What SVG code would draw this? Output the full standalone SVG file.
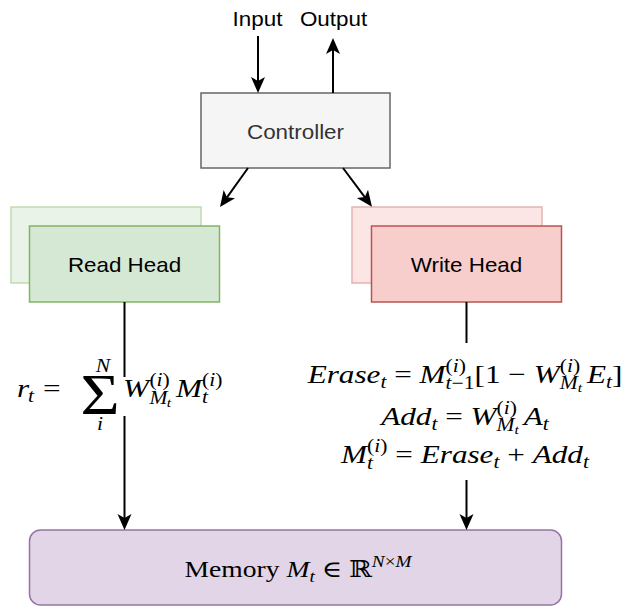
<svg xmlns="http://www.w3.org/2000/svg" width="627" height="606" viewBox="0 0 627 606">
  <style>
    .lbl { font-family: "Liberation Sans", Arial, sans-serif; font-size: 20px; fill: #000; }
    .m { font-family: "Liberation Serif", "DejaVu Serif", serif; font-size: 26px; fill: #000; }
    .i { font-style: italic; }
    .s { font-size: 18px; }
    .ss { font-size: 13px; }
    .edge { fill: none; stroke: #000; stroke-width: 2; }
  </style>
  <defs>
    <marker id="arrow" markerUnits="userSpaceOnUse" viewBox="0 -8 17 16" markerWidth="17" markerHeight="16" refX="4" refY="0" orient="auto">
      <path d="M16,0 L0,-7 L4,0 L0,7 Z" fill="#000"/>
    </marker>
  </defs>

  <!-- labels above the controller -->
  <g id="io-labels">
    <text class="lbl" transform="translate(257.5,0) scale(1.12,1)" x="0" y="26" text-anchor="middle">Input</text>
    <text class="lbl" transform="translate(333.5,0) scale(1.12,1)" x="0" y="26" text-anchor="middle">Output</text>
  </g>

  <g id="controller">
    <rect x="201" y="93" width="189" height="75" fill="#f5f5f5" stroke="#666666" stroke-width="1.5"/>
    <text class="lbl" transform="translate(295.5,0) scale(1.12,1)" x="0" y="139" text-anchor="middle" style="fill:#333333">Controller</text>
  </g>

  <g id="read-head">
    <rect x="11" y="207" width="190" height="76" fill="#e9f3e8" stroke="#c1dab3" stroke-width="1.5"/>
    <rect x="29.5" y="226" width="190" height="76" fill="#d5e8d4" stroke="#82b366" stroke-width="1.5"/>
    <text class="lbl" transform="translate(124.5,0) scale(1.12,1)" x="0" y="272" text-anchor="middle">Read Head</text>
  </g>

  <g id="write-head">
    <rect x="352" y="207" width="190" height="76" fill="#fce6e5" stroke="#e5b2b0" stroke-width="1.5"/>
    <rect x="371.5" y="226" width="190" height="76" fill="#f8cecc" stroke="#b85450" stroke-width="1.5"/>
    <text class="lbl" transform="translate(466.5,0) scale(1.12,1)" x="0" y="272" text-anchor="middle">Write Head</text>
  </g>

  <g id="memory">
    <rect x="29.5" y="530" width="532" height="75" rx="11" ry="11" fill="#e1d5e7" stroke="#9673a6" stroke-width="1.5"/>
    <text class="m" transform="translate(298,0) scale(1.2,1)" x="0" y="577" text-anchor="middle" style="font-size:23px">Memory <tspan class="i">M</tspan><tspan class="i s" dy="5" style="font-size:16px">t</tspan><tspan dy="-5"> ∈ ℝ</tspan><tspan dy="-10" style="font-size:16px"><tspan class="i">N</tspan>×<tspan class="i">M</tspan></tspan></text>
  </g>

  <g id="connectors">
    <path class="edge" d="M258,36 V81" marker-end="url(#arrow)"/>
    <path class="edge" d="M333,93 V50" marker-end="url(#arrow)"/>
    <path class="edge" d="M248,168 L227,197.3" marker-end="url(#arrow)"/>
    <path class="edge" d="M343,168 L364.8,197.1" marker-end="url(#arrow)"/>
    <path class="edge" d="M124.5,302 V377"/>
    <path class="edge" d="M124.5,416 V518" marker-end="url(#arrow)"/>
    <path class="edge" d="M466.5,302 V343"/>
    <path class="edge" d="M466.5,480 V518" marker-end="url(#arrow)"/>
  </g>

  <!-- read rule: r_t = sum_i^N W M -->
  <g id="read-formula" transform="scale(1.2,1)">
    <text class="m i" x="14.2" y="397">r</text>
    <text class="m i s" x="23.3" y="402">t</text>
    <text class="m" x="35.8" y="397">=</text>
    <text class="m" x="83.3" y="414" text-anchor="middle" style="font-size:56px">Σ</text>
    <text class="m i s" x="85.8" y="372" text-anchor="middle">N</text>
    <text class="m i s" x="83.3" y="430" text-anchor="middle">i</text>
    <text class="m i" x="102.5" y="397">W</text>
    <text class="m s" x="124.5" y="386">(<tspan class="i">i</tspan>)</text>
    <text class="m i s" x="124.5" y="404">M</text>
    <text class="m i ss" x="139" y="407">t</text>
    <text class="m i" x="146.7" y="397">M</text>
    <text class="m s" x="168.3" y="386">(<tspan class="i">i</tspan>)</text>
    <text class="m i s" x="168.3" y="403">t</text>
  </g>

  <!-- write rule -->
  <g id="write-formula">
    <text class="m" transform="translate(465,0) scale(1.2,1)" x="0" y="383" text-anchor="middle"><tspan class="i">Erase</tspan><tspan class="i s" dy="5">t</tspan><tspan dy="-5"> = </tspan><tspan class="i">M</tspan><tspan class="s" dy="-11">(<tspan class="i">i</tspan>)</tspan><tspan class="s" dx="-17" dy="17"><tspan class="i">t</tspan>−1</tspan><tspan dy="-6">[1 − </tspan><tspan class="i">W</tspan><tspan class="s" dy="-11">(<tspan class="i">i</tspan>)</tspan><tspan class="i s" dx="-17" dy="17">M</tspan><tspan class="i ss" dy="3">t</tspan><tspan class="i" dx="4" dy="-9">E</tspan><tspan class="i s" dy="5">t</tspan><tspan dy="-5">]</tspan></text>
    <text class="m" transform="translate(465,0) scale(1.2,1)" x="0" y="425" text-anchor="middle"><tspan class="i">Add</tspan><tspan class="i s" dy="5">t</tspan><tspan dy="-5"> = </tspan><tspan class="i">W</tspan><tspan class="s" dy="-11">(<tspan class="i">i</tspan>)</tspan><tspan class="i s" dx="-17" dy="17">M</tspan><tspan class="i ss" dy="3">t</tspan><tspan class="i" dx="4" dy="-9">A</tspan><tspan class="i s" dy="5">t</tspan></text>
    <text class="m" transform="translate(465,0) scale(1.2,1)" x="0" y="463" text-anchor="middle"><tspan class="i">M</tspan><tspan class="i s" dy="6">t</tspan><tspan class="s" dx="-5" dy="-17">(<tspan class="i">i</tspan>)</tspan><tspan dy="11"> = </tspan><tspan class="i">Erase</tspan><tspan class="i s" dy="5">t</tspan><tspan dy="-5"> + </tspan><tspan class="i">Add</tspan><tspan class="i s" dy="5">t</tspan></text>
  </g>
</svg>
